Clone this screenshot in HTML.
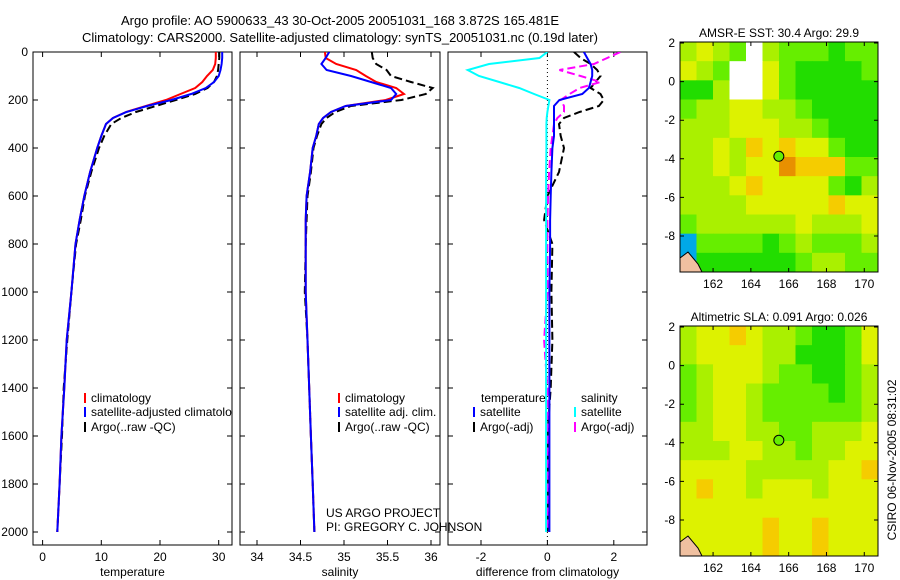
<!DOCTYPE html>
<html><head><meta charset="utf-8">
<style>
html,body{margin:0;padding:0;background:#fff;}
svg{display:block;font-family:"Liberation Sans",sans-serif;}
text{font-size:12px;fill:#000;}
</style></head>
<body>
<svg id="fig" width="900" height="580" viewBox="0 0 900 580">
<text x="340" y="25" text-anchor="middle" style="font-size:13px">Argo profile: AO 5900633_43 30-Oct-2005 20051031_168 3.872S 165.481E</text>
<text x="340" y="42" text-anchor="middle" style="font-size:13px">Climatology: CARS2000. Satellite-adjusted climatology: synTS_20051031.nc (0.19d later)</text>
<defs>
<clipPath id="c1"><rect x="33" y="52" width="199" height="493"/></clipPath>
<clipPath id="c2"><rect x="240" y="52" width="200" height="493"/></clipPath>
<clipPath id="c3"><rect x="448" y="52" width="199" height="493"/></clipPath>
</defs>
<g id="p1"></g>
<g id="p2"></g>
<g id="p3"></g>
<g id="m1"></g>
<g id="m2"></g>
<text x="326" y="517">US ARGO PROJECT</text>
<text x="326" y="531">PI: GREGORY C. JOHNSON</text>
<text transform="translate(896,460) rotate(-90)" text-anchor="middle">CSIRO 06-Nov-2005 08:31:02</text>
</svg>
<script>
const NS="http://www.w3.org/2000/svg";
// depth levels
const depths=[0,25,50,75,100,125,150,175,200,225,250,275,300,350,400,500,600,700,800,1000,1200,1400,1600,1800,2000];
// temperature
const tempClim=[29.5,29.5,29.4,29.0,28.0,27.2,26.0,23.5,21.0,17.6,14.2,12.0,10.8,10.0,9.3,8.1,7.1,6.3,5.6,4.9,4.1,3.7,3.2,2.9,2.5];
const tempSat=[30.6,30.6,30.5,30.3,30.0,29.2,27.8,25.3,21.9,17.8,14.3,12.0,10.8,10.0,9.3,8.1,7.1,6.3,5.6,4.9,4.1,3.7,3.2,2.9,2.5];
const tempArgo=[30.1,30.1,30.0,29.9,29.7,29.2,28.1,26.0,22.7,19.3,15.9,13.4,11.7,10.5,9.6,8.3,7.2,6.5,5.7,4.9,4.2,3.6,3.3,2.9,2.5];
// salinity
const salClim=[34.78,34.79,34.91,35.14,35.25,35.37,35.60,35.69,35.48,35.02,34.85,34.76,34.71,34.68,34.64,34.61,34.57,34.56,34.56,34.56,34.58,34.60,34.62,34.64,34.66];
const salSat=[34.83,34.79,34.74,34.80,35.08,35.31,35.54,35.60,35.54,35.02,34.85,34.76,34.71,34.68,34.64,34.61,34.57,34.56,34.56,34.56,34.58,34.60,34.62,34.64,34.66];
const salArgo=[35.32,35.33,35.37,35.49,35.54,35.77,36.02,35.94,35.66,35.08,34.90,34.80,34.74,34.69,34.65,34.62,34.58,34.57,34.56,34.55,34.58,34.60,34.62,34.64,34.66];
// differences
const dTempSat=[1.1,1.2,1.3,1.35,1.35,1.3,1.25,1.05,0.36,0.2,0.2,0.2,0.2,0.2,0.15,0.12,0.1,0.08,0.08,0.06,0.06,0.06,0.06,0.06,0.06];
const dSalSat=[0,-0.24,-1.76,-2.4,-2.06,-1.45,-0.85,-0.4,0.06,0.03,0.0,-0.02,-0.03,-0.03,-0.03,-0.04,-0.04,-0.04,-0.04,-0.04,-0.04,-0.04,-0.04,-0.04,-0.04];
const dTempArgo=[0.8,1.0,1.3,1.5,1.6,1.45,1.3,1.6,1.7,1.55,0.97,0.5,0.35,0.4,0.5,0.35,0.0,-0.1,0.15,0.12,0.15,0.1,0.0,0.02,0.0];
const dSalArgo=[2.2,1.8,1.4,0.36,1.0,1.6,0.97,0.67,0.4,0.5,0.5,0.3,0.2,0.15,0.1,0.05,0.02,0.0,0.0,0.0,-0.1,0.0,0.0,0.0,0.0];
// axis ticks
const depthTicks=[0,200,400,600,800,1000,1200,1400,1600,1800,2000];
const tempTicks=[0,10,20,30];
const salTicks=[34,34.5,35,35.5,36];
const salTickLabels=["34","34.5","35","35.5","36"];
const diffTicks=[-2,0,2];
const latTicks=[2,0,-2,-4,-6,-8];
const lonTicks=[162,164,166,168,170];
// map fields (rows lat 2 -> -10, cols lon 160.25 -> 170.7); -1 = missing (white), 6 = cold/blue
const sstGrid=[
[2,3,2,1,-1,2,1,1,1,0,1,1],
[3,2,1,-1,-1,3,1,0,0,0,0,1],
[0,0,2,-1,-1,3,1,0,0,0,0,0],
[1,2,2,3,3,2,2,1,0,0,0,0],
[2,2,2,3,3,3,2,2,1,0,0,0],
[2,2,3,2,4,3,4,3,3,1,0,0],
[2,2,3,2,3,3,5,4,4,4,1,1],
[2,2,2,3,4,3,3,3,3,1,0,2],
[2,2,2,2,3,3,3,3,3,4,3,3],
[1,2,2,2,2,2,2,3,2,2,2,3],
[6,1,1,1,1,0,1,2,1,1,1,2],
[6,0,0,0,0,0,0,1,2,2,1,1]];
const slaGrid=[
[2,3,3,4,3,2,2,1,0,0,1,3],
[2,3,3,3,3,2,2,0,0,0,1,3],
[1,2,3,3,3,2,1,1,0,0,1,2],
[1,2,3,3,2,1,1,1,1,0,1,2],
[1,2,3,3,2,1,1,1,1,1,1,2],
[2,2,3,3,2,2,1,1,2,2,2,3],
[2,2,2,3,3,2,2,1,2,2,3,3],
[3,3,3,3,2,2,2,2,2,3,3,4],
[3,4,3,3,2,3,3,3,2,3,3,3],
[3,3,3,3,3,3,3,3,3,3,3,3],
[3,3,3,3,3,4,3,3,4,3,3,3],
[3,3,3,3,3,4,3,3,4,3,3,3]];
const argoLon=165.48, argoLat=-3.87;

const Y0=52, YS=0.24;
const yD=d=>Y0+d*YS;
const xT=v=>42.6+v*5.87;
const xS=v=>257+(v-34)*87;
const xDf=v=>547.4+v*33.2;

function el(tag,attrs,parent){const e=document.createElementNS(NS,tag);for(const k in attrs)e.setAttribute(k,attrs[k]);parent.appendChild(e);return e;}

function frame(g,x0,x1,xt,xf,labels,leftLabels,name,xlabel){
  const r=el('rect',{x:x0,y:52,width:x1-x0,height:493,fill:'none',stroke:'#000','stroke-width':1},g);
  
  
  depthTicks.forEach(d=>{
    const y=yD(d);
    const t=el('path',{d:`M${x0},${y}h5M${x1},${y}h-5`,stroke:'#000'},g);
    
    
    if(leftLabels){
      const tx=el('text',{x:x0-5,y:y+4,'text-anchor':'end'},g);
      
      
      tx.textContent=d;
    }
  });
  xt.forEach((v,i)=>{
    const x=xf(v);
    const t=el('path',{d:`M${x},52v5M${x},545v-5`,stroke:'#000'},g);
    
    
    const tx=el('text',{x:x,y:561,'text-anchor':'middle'},g);
    
    
    tx.textContent=labels?labels[i]:v;
  });
  const xl=el('text',{x:(x0+x1)/2,y:576,'text-anchor':'middle'},g);
  
  
  xl.textContent=xlabel;
}
function line(g,vals,xf,color,dash,name,clip){
  const pts=vals.map((v,i)=>xf(v).toFixed(1)+','+yD(depths[i]).toFixed(1)).join(' ');
  const p=el('polyline',{points:pts,fill:'none',stroke:color,'stroke-width':2,'clip-path':'url(#'+clip+')'},g);
  if(dash)p.setAttribute('stroke-dasharray',dash);
  
  
}
function legend(g,x,y,color,label,clip){
  const m=el('rect',{x:x,y:y-9,width:2,height:10,fill:color},g);
  
  
  const t=el('text',{x:x+7,y:y},g);
  if(clip)t.setAttribute('clip-path','url(#'+clip+')');
  
  
  t.textContent=label;
}
const p1=document.getElementById('p1'),p2=document.getElementById('p2'),p3=document.getElementById('p3');
frame(p1,33,232,tempTicks,xT,null,true,'temperature','temperature');
line(p1,tempArgo,xT,'#000','8,4','temp-argo-line','c1');
line(p1,tempClim,xT,'#f00',null,'temp-climatology-line','c1');
line(p1,tempSat,xT,'#00f',null,'temp-satellite-line','c1');
legend(p1,84,402,'#f00','climatology','c1');
legend(p1,84,416,'#00f','satellite-adjusted climatology','c1');
legend(p1,84,431,'#000','Argo(..raw -QC)','c1');

frame(p2,240,440,salTicks,xS,salTickLabels,false,'salinity','salinity');
line(p2,salArgo,xS,'#000','8,4','sal-argo-line','c2');
line(p2,salClim,xS,'#f00',null,'sal-climatology-line','c2');
line(p2,salSat,xS,'#00f',null,'sal-satellite-line','c2');
legend(p2,338,402,'#f00','climatology');
legend(p2,338,416,'#00f','satellite adj. clim.');
legend(p2,338,431,'#000','Argo(..raw -QC)');

frame(p3,448,647,diffTicks,xDf,null,false,'difference','difference from climatology');
const zl=el('line',{x1:xDf(0),x2:xDf(0),y1:52,y2:545,stroke:'#000','stroke-dasharray':'1,3'},p3);


line(p3,dTempArgo,xDf,'#000','8,4','diff-temp-argo-line','c3');
line(p3,dSalArgo,xDf,'#f0f','8,4','diff-sal-argo-line','c3');
line(p3,dSalSat,xDf,'#0ff',null,'diff-sal-satellite-line','c3');
line(p3,dTempSat,xDf,'#00f',null,'diff-temp-satellite-line','c3');
const th=el('text',{x:481,y:402},p3);


th.textContent='temperature';
const sh=el('text',{x:581,y:402},p3);


sh.textContent='salinity';
legend(p3,473,416,'#00f','satellite');
legend(p3,473,431,'#000','Argo(-adj)');
legend(p3,574,416,'#0ff','satellite');
legend(p3,574,431,'#f0f','Argo(-adj)');

const palette=['#22dd00','#66ee00','#aaf000','#ddf200','#f5cc00','#e89000','#00a8e8'];
function map(g,grid,top,title,name){
  const x0=680,x1=878,bottom=top+230;
  const lonX=l=>x0+(l-160.25)*18.9;
  const latY=l=>top+1+(2-l)*19.3;
  const cw=(x1-x0)/12,ch=(bottom-top)/12;
  grid.forEach((row,r)=>row.forEach((v,c)=>{
    const cell=el('rect',{x:x0+c*cw,y:top+r*ch,width:cw+0.5,height:ch+0.5,fill:v<0?'#fff':palette[v]},g);
    
    
  }));
  const land=el('path',{d:`M${x0},${bottom-14} l8,-6 l10,12 l4,8 h-22z`,fill:'#f0c0a0',stroke:'#000','stroke-width':1},g);
  
  
  const fr=el('rect',{x:x0,y:top,width:x1-x0,height:bottom-top,fill:'none',stroke:'#000'},g);
  
  
  latTicks.forEach(l=>{
    const y=latY(l);
    const t=el('path',{d:`M${x0},${y}h4M${x1},${y}h-4`,stroke:'#000'},g);
    
    
    const tx=el('text',{x:x0-5,y:y+4,'text-anchor':'end'},g);
    
    
    tx.textContent=l;
  });
  lonTicks.forEach(l=>{
    const x=lonX(l);
    const t=el('path',{d:`M${x},${top}v4M${x},${bottom}v-4`,stroke:'#000'},g);
    
    
    const tx=el('text',{x:x,y:bottom+16,'text-anchor':'middle'},g);
    
    
    tx.textContent=l;
  });
  const ci=el('circle',{cx:lonX(argoLon),cy:latY(argoLat),r:5,fill:palette[1],stroke:'#000'},g);
  
  
  const tt=el('text',{x:(x0+x1)/2,y:top-5,'text-anchor':'middle'},g);
  
  
  tt.textContent=title;
}
map(document.getElementById('m1'),sstGrid,42,'AMSR-E SST: 30.4  Argo: 29.9','sst-map');
map(document.getElementById('m2'),slaGrid,326,'Altimetric SLA: 0.091  Argo: 0.026','sla-map');
</script>
</body></html>
